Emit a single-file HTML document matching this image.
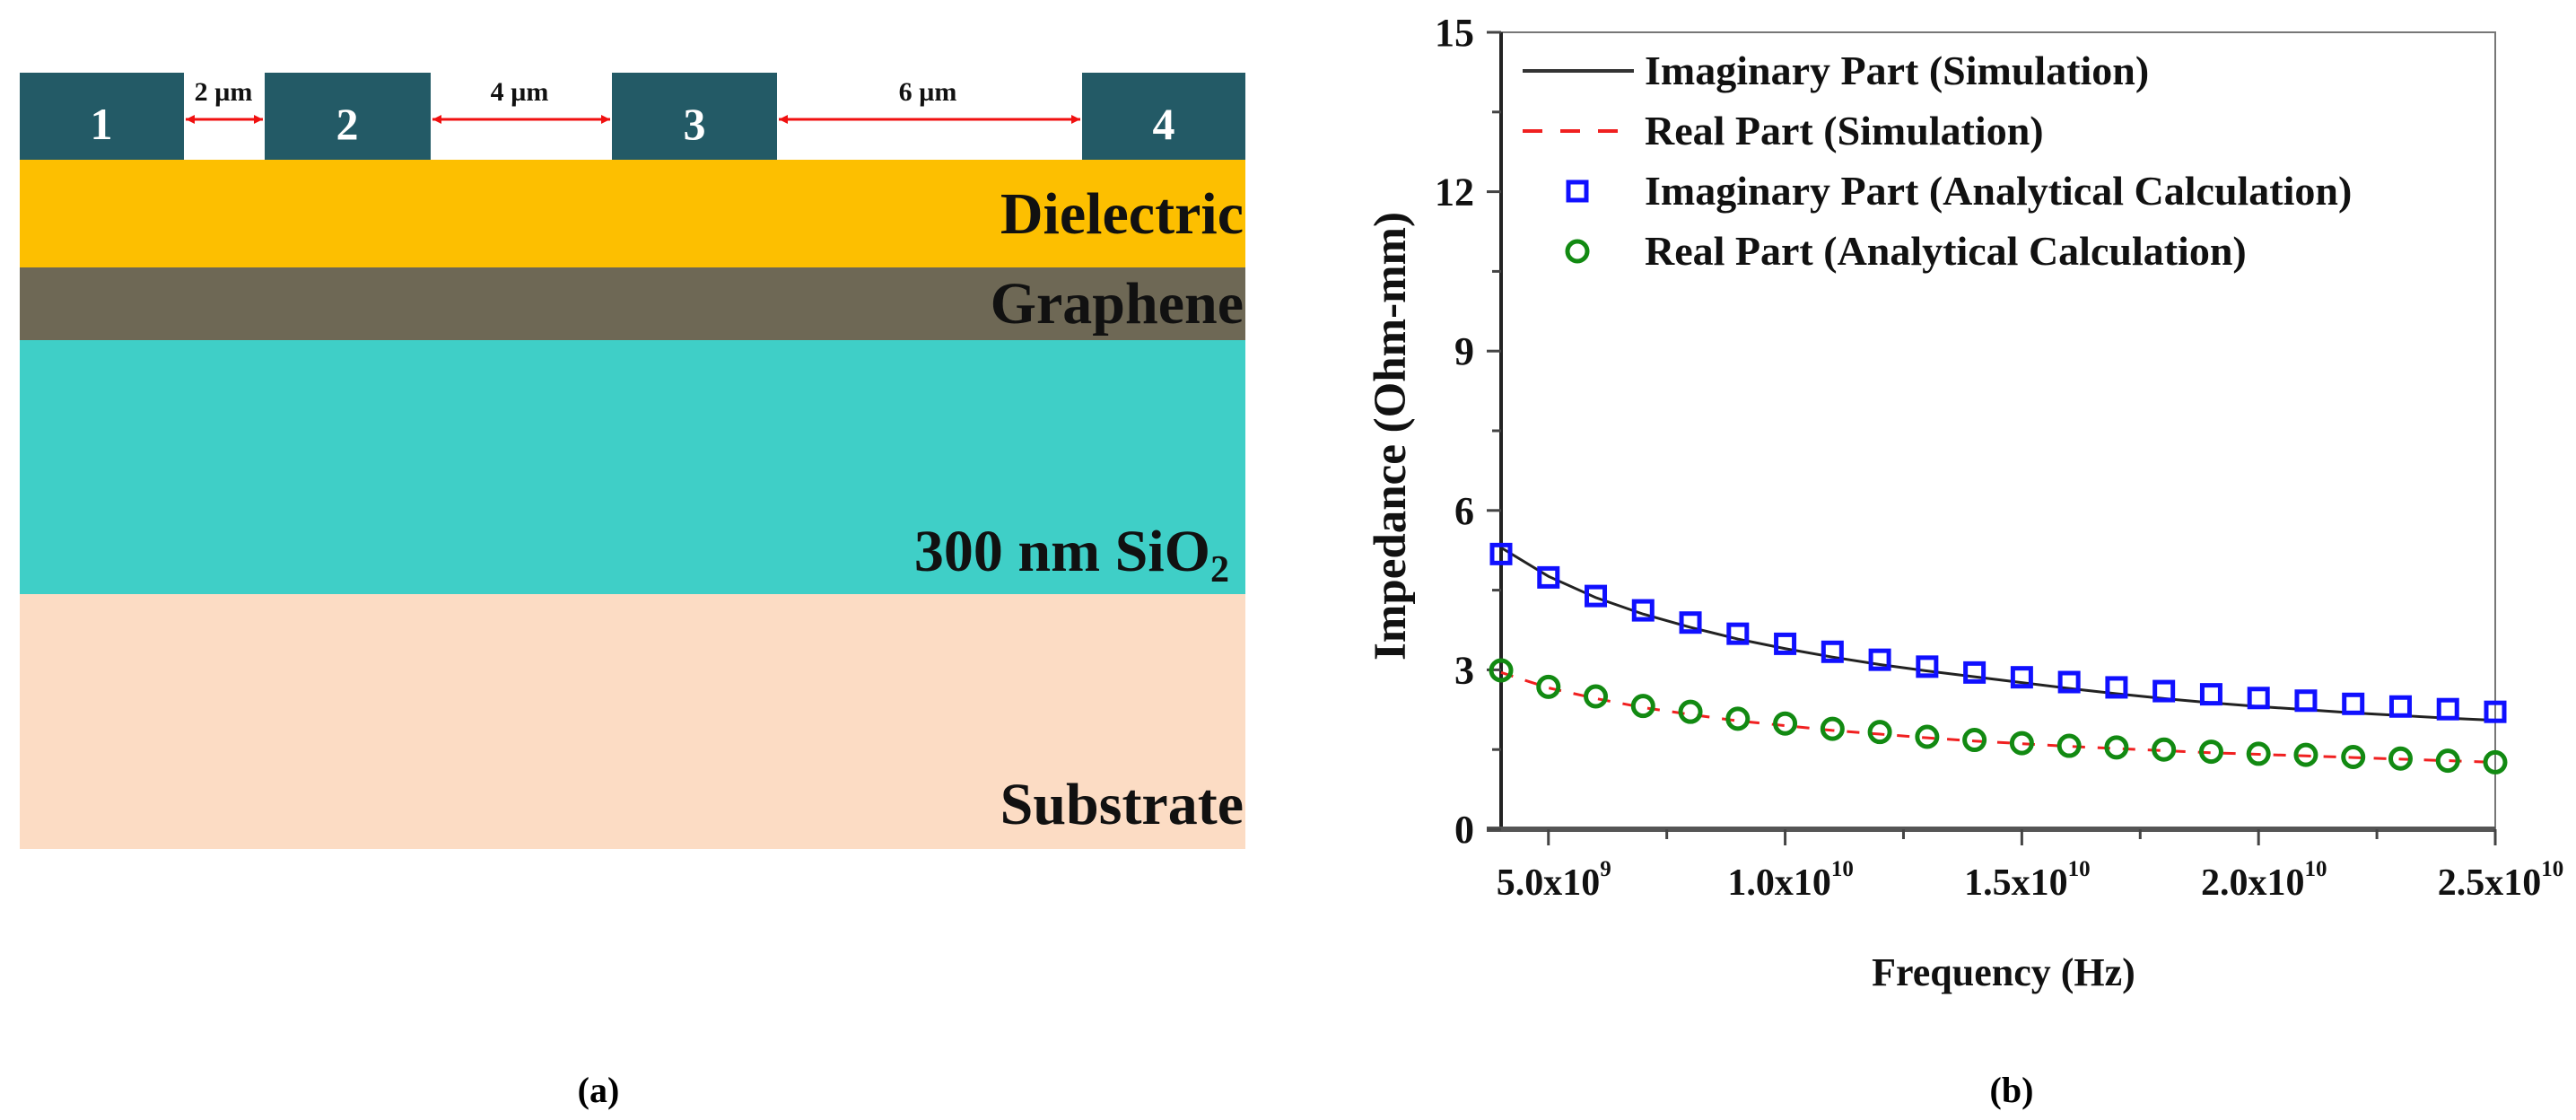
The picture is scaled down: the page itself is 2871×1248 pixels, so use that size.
<!DOCTYPE html>
<html><head><meta charset="utf-8"><style>
html,body{margin:0;padding:0;background:#fff;}
svg{display:block;font-family:"Liberation Serif",serif;font-weight:bold;}
</style></head><body>
<svg id="fig" width="2871" height="1248" viewBox="0 0 2871 1248" xmlns="http://www.w3.org/2000/svg">
<g>
<rect x="22" y="178" width="1366" height="120" fill="#fdbf00"/>
<rect x="22" y="298" width="1366" height="81" fill="#6e6855"/>
<rect x="22" y="379" width="1366" height="283" fill="#3fcfc7"/>
<rect x="22" y="662" width="1366" height="284" fill="#fcdcc4"/>
<rect x="22" y="81" width="183" height="97" fill="#235a66"/>
<rect x="295" y="81" width="185" height="97" fill="#235a66"/>
<rect x="682" y="81" width="184" height="97" fill="#235a66"/>
<rect x="1206" y="81" width="182" height="97" fill="#235a66"/>
<g fill="#fff" font-size="50" text-anchor="middle">
<text x="113" y="155">1</text>
<text x="387" y="155">2</text>
<text x="774" y="155">3</text>
<text x="1297" y="155">4</text>
</g>
<g stroke="#f01010" stroke-width="3" fill="#f01010">
<line x1="207" y1="133" x2="293" y2="133"/>
<line x1="482" y1="133" x2="680" y2="133"/>
<line x1="868" y1="133" x2="1204" y2="133"/>
<path d="M207 133l10-5v10zM293 133l-10-5v10zM482 133l10-5v10zM680 133l-10-5v10zM868 133l10-5v10zM1204 133l-10-5v10z" stroke="none"/>
</g>
<g font-size="30" text-anchor="middle" fill="#111">
<text x="249" y="112">2 µm</text>
<text x="579" y="112">4 µm</text>
<text x="1034" y="112">6 µm</text>
</g>
<g font-size="66" text-anchor="end" fill="#111">
<text x="1386" y="260">Dielectric</text>
<text x="1386" y="360">Graphene</text>
<text x="1370" y="636">300 nm SiO<tspan font-size="42" dy="12">2</tspan></text>
<text x="1386" y="918">Substrate</text>
</g>
<text x="667" y="1228" font-size="40" text-anchor="middle">(a)</text>
</g>
<g id="chart"></g>
<text x="2242" y="1228" font-size="40" text-anchor="middle">(b)</text>
</svg>
<script>
const freqs = [4,5,6,7,8,9,10,11,12,13,14,15,16,17,18,19,20,21,22,23,24,25]; // x1e9 Hz
const imagSim = [5.30,4.76,4.36,4.05,3.80,3.58,3.40,3.24,3.10,2.98,2.87,2.76,2.65,2.55,2.46,2.38,2.31,2.25,2.19,2.14,2.09,2.05];
const realSim = [2.95,2.66,2.46,2.29,2.16,2.04,1.95,1.86,1.79,1.72,1.66,1.61,1.56,1.52,1.48,1.44,1.41,1.38,1.35,1.32,1.29,1.26];
const imagCalc = [5.18,4.74,4.39,4.12,3.89,3.68,3.49,3.34,3.19,3.06,2.95,2.86,2.77,2.67,2.60,2.54,2.47,2.42,2.36,2.31,2.26,2.21];
const realCalc = [2.99,2.68,2.50,2.32,2.21,2.08,1.99,1.89,1.83,1.74,1.68,1.62,1.57,1.54,1.50,1.46,1.42,1.40,1.36,1.33,1.29,1.26];
const yTicks = [0,3,6,9,12,15];
const xTicks = [5,10,15,20,25];
const xTickLabels = ["5.0x10","1.0x10","1.5x10","2.0x10","2.5x10"];
const xTickExps = ["9","10","10","10","10"];

const NS="http://www.w3.org/2000/svg";
const L=1673,R=2781,T=36,B=924;
const X0=4,X1=25,Y0=0,Y1=15;
const sx=v=>L+(v-X0)/(X1-X0)*(R-L);
const sy=v=>B-(v-Y0)/(Y1-Y0)*(B-T);
const g=document.getElementById('chart');
function mk(tag,attrs,parent){const e=document.createElementNS(NS,tag);for(const k in attrs)e.setAttribute(k,attrs[k]);(parent||g).appendChild(e);return e;}

let e;
e=mk('rect',{x:L,y:T,width:R-L,height:B-T,fill:'none',stroke:'#777','stroke-width':2});


e=mk('line',{x1:L,y1:T,x2:L,y2:B+2,stroke:'#222','stroke-width':4});


e=mk('line',{x1:L-16,y1:B,x2:R,y2:B,stroke:'#555','stroke-width':6});



yTicks.forEach((v,i)=>{
  const y=sy(v);
  const t=mk('line',{x1:L-16,y1:y,x2:L,y2:y,stroke:'#444','stroke-width':3});
  
  
  if(i<yTicks.length-1){
    const m=mk('line',{x1:L-10,y1:sy(v+1.5),x2:L,y2:sy(v+1.5),stroke:'#444','stroke-width':3});
    
    
  }
  const lab=mk('text',{x:L-30,y:y+15,'font-size':44,'text-anchor':'end',fill:'#111'});
  lab.textContent=String(v);
  
  
});
xTicks.forEach((v,i)=>{
  const x=sx(v);
  const t=mk('line',{x1:x,y1:B,x2:x,y2:B+18,stroke:'#444','stroke-width':3});
  
  
  if(i<xTicks.length-1){
    const m=mk('line',{x1:sx(v+2.5),y1:B,x2:sx(v+2.5),y2:B+11,stroke:'#444','stroke-width':3});
    
    
  }
  const lab=mk('text',{x:x+6,y:997,'font-size':42,'text-anchor':'middle',fill:'#111'});
  lab.textContent=xTickLabels[i];
  const sup=mk('tspan',{'font-size':25,dy:-21},lab);
  sup.textContent=xTickExps[i];
  
  
});
e=mk('text',{x:2233,y:1098,'font-size':44,'text-anchor':'middle',fill:'#111'});
e.textContent='Frequency (Hz)';


e=mk('text',{x:0,y:0,'font-size':51,'text-anchor':'middle',fill:'#111',transform:'translate(1566,486) rotate(-90)'});
e.textContent='Impedance (Ohm-mm)';



function pts(arr){return freqs.map((f,i)=>sx(f)+','+sy(arr[i])).join(' ');}
e=mk('polyline',{points:pts(imagSim),fill:'none',stroke:'#222','stroke-width':3});


e=mk('polyline',{points:pts(realSim),fill:'none',stroke:'#f02020','stroke-width':3,'stroke-dasharray':'14 14'});


freqs.forEach((f,i)=>{
  const s=mk('rect',{x:sx(f)-10,y:sy(imagCalc[i])-10,width:20,height:20,fill:'none',stroke:'#1010ff','stroke-width':5});
  
  
  const c=mk('circle',{cx:sx(f),cy:sy(realCalc[i]),r:11,fill:'none',stroke:'#128a12','stroke-width':5});
  
  
});

// legend
const lg=mk('g',{});


const names=['Imaginary Part (Simulation)','Real Part (Simulation)','Imaginary Part (Analytical Calculation)','Real Part (Analytical Calculation)'];
const rowsY=[79,146,213,280];
e=mk('line',{x1:1697,y1:79,x2:1821,y2:79,stroke:'#333','stroke-width':4},lg);


e=mk('line',{x1:1697,y1:146,x2:1805,y2:146,stroke:'#f02020','stroke-width':4,'stroke-dasharray':'22 20'},lg);


e=mk('rect',{x:1748,y:203,width:20,height:20,fill:'none',stroke:'#1010ff','stroke-width':5},lg);


e=mk('circle',{cx:1758,cy:280,r:11,fill:'none',stroke:'#128a12','stroke-width':5},lg);


names.forEach((n,i)=>{
  const t=mk('text',{x:1833,y:rowsY[i]+15,'font-size':46,fill:'#111'},lg);
  t.textContent=n;
  
  
});
</script>
</body></html>
